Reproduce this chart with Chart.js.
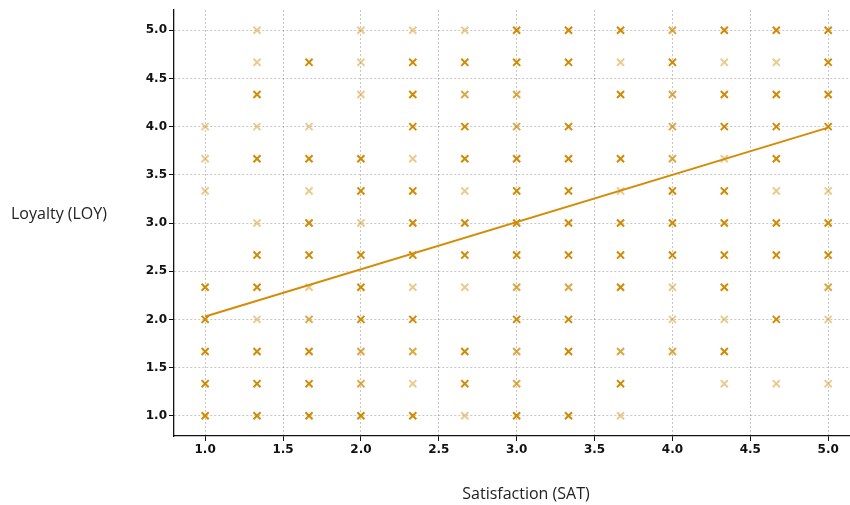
<!DOCTYPE html>
<html>
<head>
<meta charset="utf-8">
<script src="https://cdn.jsdelivr.net/npm/chart.js@4.4.1/dist/chart.umd.min.js"></script>
<style>
  html, body { margin: 0; padding: 0; background: #fff; overflow: hidden; }
  canvas { display: block; }
</style>
</head>
<body>
<canvas id="satLoyChart" width="850" height="505"></canvas>
<script>
// Survey answer levels (1-5 scale averaged over 3 items)
var satLevels = [1.0, 1.333, 1.667, 2.0, 2.333, 2.667, 3.0, 3.333, 3.667, 4.0, 4.333, 4.667, 5.0];
var loyLevels = [5.0, 4.667, 4.333, 4.0, 3.667, 3.333, 3.0, 2.667, 2.333, 2.0, 1.667, 1.333, 1.0];

// number of respondents at each (SAT, LOY) cell, one row per loyLevels entry
var responses = [
    [0, 1, 0, 1, 1, 1, 3, 3, 3, 2, 3, 3, 3],
    [0, 1, 3, 1, 3, 3, 3, 3, 1, 3, 1, 1, 3],
    [0, 3, 0, 1, 3, 2, 2, 0, 3, 2, 3, 3, 3],
    [1, 1, 1, 0, 3, 3, 2, 3, 0, 2, 3, 3, 3],
    [1, 3, 3, 3, 1, 3, 3, 3, 3, 2, 1, 3, 0],
    [1, 0, 1, 3, 3, 1, 3, 3, 1, 3, 3, 1, 1],
    [0, 1, 3, 1, 3, 3, 3, 3, 3, 3, 3, 3, 3],
    [0, 3, 3, 3, 3, 3, 3, 3, 3, 3, 3, 3, 3],
    [3, 3, 1, 3, 1, 1, 2, 2, 3, 1, 3, 0, 2],
    [3, 1, 2, 3, 3, 0, 3, 3, 0, 1, 1, 3, 1],
    [3, 3, 3, 2, 2, 3, 2, 3, 2, 2, 3, 0, 0],
    [3, 3, 3, 2, 1, 3, 2, 0, 3, 0, 1, 1, 1],
    [3, 3, 3, 3, 3, 1, 3, 3, 1, 0, 0, 0, 0]
];

// fitted regression line LOY ~ SAT
var fitSat = [1.0, 5.0];
var fitLoy = [2.03, 3.99];

var xTicks = [1.0, 1.5, 2.0, 2.5, 3.0, 3.5, 4.0, 4.5, 5.0];
var yTicks = [1.0, 1.5, 2.0, 2.5, 3.0, 3.5, 4.0, 4.5, 5.0];

document.addEventListener('DOMContentLoaded', function() {
    var scatterData = [];
    for (var r = 0; r < loyLevels.length; r++) {
        for (var c = 0; c < satLevels.length; c++) {
            if (responses[r][c] > 0) {
                scatterData.push({ x: satLevels[c], y: loyLevels[r], n: responses[r][c] });
            }
        }
    }
    var lineData = fitSat.map(function(v, i) { return { x: v, y: fitLoy[i] }; });

    var alphaFor = { 1: 0.45, 2: 0.75, 3: 1 };
    function markColor(ctx) {
        var raw = ctx.raw || { n: 3 };
        return 'rgba(210, 138, 4, ' + alphaFor[raw.n] + ')';
    }

    // axis titles are drawn horizontally, like the original
    var axisTitles = {
        id: 'axisTitles',
        afterDraw: function(chart) {
            var ctx = chart.ctx;
            ctx.save();
            ctx.fillStyle = '#222';
            ctx.font = '16px "Open Sans", sans-serif';
            ctx.textBaseline = 'middle';
            ctx.textAlign = 'left';
            ctx.fillText('Loyalty (LOY)', 11, 214);
            ctx.textAlign = 'center';
            ctx.fillText('Satisfaction (SAT)', 526, 494);
            ctx.restore();
        }
    };

    var tickFont = { family: '"DejaVu Sans", sans-serif', size: 12, weight: 'bold' };

    var ctx = document.getElementById('satLoyChart').getContext('2d');
    var chart = new Chart(ctx, {
        type: 'scatter',
        data: {
            datasets: [{
                type: 'line',
                label: 'Fit',
                data: lineData,
                borderColor: 'rgb(212, 140, 6)',
                borderWidth: 2,
                pointRadius: 0,
                fill: false
            }, {
                label: 'Responses',
                data: scatterData,
                pointStyle: 'crossRot',
                pointRadius: 5,
                pointBorderWidth: 2,
                pointBorderColor: markColor,
                pointBackgroundColor: markColor
            }]
        },
        options: {
            responsive: false,
            animation: false,
            layout: { autoPadding: false, padding: { left: 120, top: 10, right: 0, bottom: 0 } },
            plugins: {
                legend: { display: false },
                tooltip: { enabled: false }
            },
            scales: {
                x: {
                    type: 'linear',
                    min: 0.8,
                    max: 5.14,
                    afterBuildTicks: function(scale) {
                        scale.ticks = xTicks.map(function(v) { return { value: v }; });
                    },
                    afterFit: function(scale) {
                        scale.height = 69;
                        scale.paddingRight = 0;
                        scale.paddingLeft = 0;
                    },
                    ticks: {
                        color: '#111',
                        font: tickFont,
                        padding: 2,
                        maxRotation: 0,
                        callback: function(v) { return Number(v).toFixed(1); }
                    },
                    grid: {
                        color: 'rgba(0, 0, 0, 0.22)',
                        tickColor: '#111',
                        tickLength: 5
                    },
                    border: { color: '#111', width: 1.3, dash: [2, 2] }
                },
                y: {
                    type: 'linear',
                    min: 0.79,
                    max: 5.21,
                    afterBuildTicks: function(scale) {
                        scale.ticks = yTicks.map(function(v) { return { value: v }; });
                    },
                    afterFit: function(scale) {
                        scale.width = 54;
                        scale.paddingTop = 0;
                        scale.paddingBottom = 0;
                    },
                    ticks: {
                        color: '#111',
                        font: tickFont,
                        padding: 2,
                        callback: function(v) { return Number(v).toFixed(1); }
                    },
                    grid: {
                        color: 'rgba(0, 0, 0, 0.22)',
                        tickColor: '#111',
                        tickLength: 5
                    },
                    border: { color: '#111', width: 1.3, dash: [2, 2] }
                }
            }
        },
        plugins: [axisTitles]
    });
});
</script>
</body>
</html>
